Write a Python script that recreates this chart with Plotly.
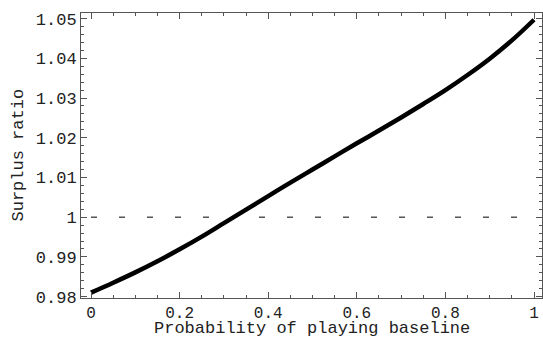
import plotly.graph_objects as go

prob = [0.0, 0.05, 0.1, 0.15, 0.2, 0.25, 0.3, 0.35, 0.4, 0.45, 0.5,
        0.55, 0.6, 0.65, 0.7, 0.75, 0.8, 0.85, 0.9, 0.95, 1.0]
ratio = [0.9810, 0.9835, 0.9861, 0.9889, 0.9919, 0.9951, 0.9985, 1.0019,
         1.0053, 1.0087, 1.0120, 1.0153, 1.0186, 1.0218, 1.0251, 1.0285,
         1.0320, 1.0358, 1.0399, 1.0445, 1.0497]
ref_x = [0.0, 1.0]
ref_y = [1.0, 1.0]

x_ticks = [0, 0.2, 0.4, 0.6, 0.8, 1]
x_labels = ["0", "0.2", "0.4", "0.6", "0.8", "1"]
y_ticks = [0.98, 0.99, 1.0, 1.01, 1.02, 1.03, 1.04, 1.05]
y_labels = ["0.98", "0.99", "1", "1.01", "1.02", "1.03", "1.04", "1.05"]
x_title = "Probability of playing baseline"
y_title = "Surplus ratio"

FONT = "Liberation Mono, Courier New, monospace"
FRAME = "#555555"
TEXT = "#222222"

fig = go.Figure()
fig.add_trace(go.Scatter(x=ref_x, y=ref_y, mode="lines",
                         line=dict(color="black", width=1, dash="6px,22px"),
                         hoverinfo="skip", showlegend=False))
fig.add_trace(go.Scatter(x=prob, y=ratio, mode="lines",
                         line=dict(color="black", width=4.5, shape="spline"),
                         showlegend=False))

axis_common = dict(showgrid=False, zeroline=False, showline=True, linecolor=FRAME,
                   linewidth=1, mirror="allticks", ticks="inside", ticklen=6,
                   tickcolor=FRAME, tickwidth=1, automargin=False)

fig.update_xaxes(range=[-0.0226, 1.018], tickvals=x_ticks, ticktext=x_labels,
                 tickfont=dict(family=FONT, size=16, color=TEXT),
                 minor=dict(dtick=0.05, tick0=0, ticks="inside", ticklen=3,
                            tickcolor=FRAME, showgrid=False),
                 **axis_common)
fig.update_yaxes(range=[0.97965, 1.0514], tickvals=y_ticks, ticktext=y_labels,
                 tickfont=dict(family=FONT, size=17, color=TEXT),
                 minor=dict(dtick=0.002, tick0=0.98, ticks="inside", ticklen=3,
                            tickcolor=FRAME, showgrid=False),
                 **axis_common)

fig.add_annotation(text=x_title, xref="paper", yref="paper", x=0.5, y=0,
                   xanchor="center", yanchor="middle", yshift=-30, showarrow=False,
                   font=dict(family=FONT, size=17, color=TEXT))
fig.add_annotation(text=y_title, xref="paper", yref="paper", x=0, y=0.5,
                   xanchor="center", yanchor="middle", xshift=-63, textangle=-90,
                   showarrow=False, font=dict(family=FONT, size=17, color=TEXT))

fig.update_layout(width=543, height=339, margin=dict(l=81, r=1, t=13, b=41),
                  plot_bgcolor="white", paper_bgcolor="white")

fig.write_html("out.html", config={"displayModeBar": False},
               post_script="document.body.style.margin='0';document.body.style.overflow='hidden';")
